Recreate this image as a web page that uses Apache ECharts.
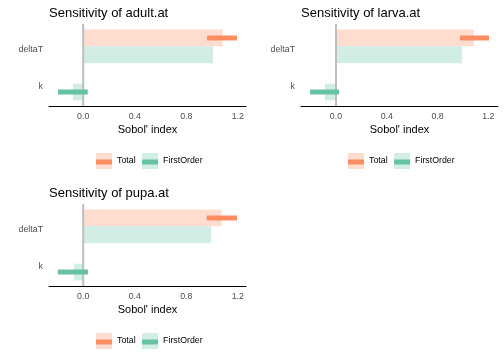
<!DOCTYPE html>
<html><head><meta charset="utf-8">
<script src="https://cdn.jsdelivr.net/npm/echarts@6/dist/echarts.min.js"></script>
<style>html,body{margin:0;padding:0;background:#fff}#c{width:504px;height:360px}</style>
</head><body><div id="c"></div>
<script>
// ---- data ----
const categories = ['deltaT', 'k'];
const measures = ['Total', 'FirstOrder'];
const panelNames = ['adult.at', 'larva.at', 'pupa.at'];
const xTicks = [0, 0.4, 0.8, 1.2];

const adultTotal      = [1.083, 0];
const adultTotalLow   = [0.961, null];
const adultTotalHigh  = [1.194, null];
const adultFirst      = [1.008, -0.079];
const adultFirstLow   = [null, -0.196];
const adultFirstHigh  = [null, 0.035];

const larvaTotal      = [1.085, 0];
const larvaTotalLow   = [0.977, null];
const larvaTotalHigh  = [1.206, null];
const larvaFirst      = [0.993, -0.087];
const larvaFirstLow   = [null, -0.205];
const larvaFirstHigh  = [null, 0.024];

const pupaTotal       = [1.075, 0];
const pupaTotalLow    = [0.959, null];
const pupaTotalHigh   = [1.194, null];
const pupaFirst       = [0.992, -0.071];
const pupaFirstLow    = [null, -0.196];
const pupaFirstHigh   = [null, 0.037];

const panelData = [
  {total: adultTotal, totalLow: adultTotalLow, totalHigh: adultTotalHigh, first: adultFirst, firstLow: adultFirstLow, firstHigh: adultFirstHigh},
  {total: larvaTotal, totalLow: larvaTotalLow, totalHigh: larvaTotalHigh, first: larvaFirst, firstLow: larvaFirstLow, firstHigh: larvaFirstHigh},
  {total: pupaTotal,  totalLow: pupaTotalLow,  totalHigh: pupaTotalHigh,  first: pupaFirst,  firstLow: pupaFirstLow,  firstHigh: pupaFirstHigh}
];

// ---- style / layout ----
const FONT = "'Liberation Sans', Arial, sans-serif";
const dark = ['#FC8D62', '#66C2A5'];
const light = ['#FEDDD0', '#D1EDE4'];
const layout = [
  {left: 49,  top: 24},
  {left: 301, top: 24},
  {left: 49,  top: 204}
];
const GW = 197, GH = 82;
const DODGE = 0.225, HALF = 0.225;
const LABEL_SHIFT = 0.08; // category labels sit slightly below the category centre

const chart = echarts.init(document.getElementById('c'), null, {renderer: 'canvas'});

const titles = [], grids = [], xAxes = [], yAxes = [], series = [], legends = [];

function barRender(color) {
  return function (params, api) {
    const y = api.value(0), v = api.value(1);
    const p0 = api.coord([0, y - HALF]);
    const p1 = api.coord([v, y + HALF]);
    return {
      type: 'rect',
      shape: {x: Math.min(p0[0], p1[0]), y: Math.min(p0[1], p1[1]),
              width: Math.abs(p1[0] - p0[0]), height: Math.abs(p1[1] - p0[1])},
      style: {fill: color}
    };
  };
}
function ciRender(color) {
  return function (params, api) {
    const y = api.value(0), lo = api.value(1), hi = api.value(2);
    const a = api.coord([lo, y]);
    const b = api.coord([hi, y]);
    return {
      type: 'rect',
      shape: {x: a[0], y: a[1] - 2.5, width: b[0] - a[0], height: 5},
      style: {fill: color}
    };
  };
}

panelData.forEach((p, i) => {
  const L = layout[i];
  const all = [0].concat(p.total, p.first, p.totalLow, p.totalHigh, p.firstLow, p.firstHigh).filter(v => v !== null);
  const dmin = Math.min(...all), dmax = Math.max(...all);
  const ex = (dmax - dmin) * 0.05;

  titles.push({
    text: 'Sensitivity of ' + panelNames[i],
    left: L.left, top: L.top - 17.5, padding: 0,
    textStyle: {fontFamily: FONT, fontSize: 13, fontWeight: 'normal', color: '#000'}
  });
  grids.push({left: L.left, top: L.top, width: GW, height: GH, containLabel: false, outerBoundsMode: 'none'});
  xAxes.push({
    gridIndex: i, type: 'value', min: dmin - ex, max: dmax + ex,
    axisLine: {show: true, onZero: false, lineStyle: {color: '#000', width: 1}},
    axisTick: {show: false}, splitLine: {show: false},
    axisLabel: {customValues: xTicks, formatter: v => v.toFixed(1), color: '#4D4D4D',
                fontSize: 8.8, fontFamily: FONT, margin: 6.5},
    name: "Sobol' index", nameLocation: 'middle', nameGap: 18,
    nameTextStyle: {fontFamily: FONT, fontSize: 11, color: '#000'}
  });
  yAxes.push({
    gridIndex: i, type: 'value', inverse: true, min: 0.4, max: 2.6,
    axisLine: {show: false}, axisTick: {show: false}, splitLine: {show: false},
    axisLabel: {customValues: categories.map((c, j) => j + 1 + LABEL_SHIFT),
                formatter: v => categories[Math.round(v) - 1],
                color: '#4D4D4D', fontSize: 8.8, fontFamily: FONT, margin: 6}
  });

  const vals = [p.total, p.first];
  const lows = [p.totalLow, p.firstLow];
  const highs = [p.totalHigh, p.firstHigh];
  measures.forEach((m, k) => {
    const off = k === 0 ? -DODGE : DODGE;
    series.push({
      type: 'custom', name: m, xAxisIndex: i, yAxisIndex: i, z: 1,
      itemStyle: {color: light[k]}, silent: true,
      renderItem: barRender(light[k]),
      data: categories.map((c, j) => [j + 1 + off, vals[k][j]])
    });
  });
  series.push({
    type: 'custom', xAxisIndex: i, yAxisIndex: i, z: 2, silent: true,
    renderItem: function (params, api) {
      const x = api.coord([api.value(0), 1])[0];
      const cs = params.coordSys;
      return {type: 'line', shape: {x1: x, y1: cs.y, x2: x, y2: cs.y + cs.height},
              style: {stroke: '#BEBEBE', lineWidth: 2}};
    },
    data: [[0, 1]]
  });
  measures.forEach((m, k) => {
    const off = k === 0 ? -DODGE : DODGE;
    const d = [];
    categories.forEach((c, j) => {
      if (lows[k][j] !== null && highs[k][j] !== null) d.push([j + 1 + off, lows[k][j], highs[k][j]]);
    });
    series.push({
      type: 'custom', name: m, xAxisIndex: i, yAxisIndex: i, z: 3,
      itemStyle: {color: dark[k]}, silent: true,
      renderItem: ciRender(dark[k]),
      data: d
    });
  });

  const lx = L.left + 47, ly = L.top + 129;
  const common = {left: lx, top: ly, padding: 0, itemWidth: 16, itemHeight: 16, itemGap: 6.5,
                  selectedMode: false, orient: 'horizontal'};
  legends.push(Object.assign({}, common, {
    icon: 'rect',
    data: measures.map((m, k) => ({name: m, itemStyle: {color: light[k]}})),
    textStyle: {fontFamily: FONT, fontSize: 8.8, color: '#000'}
  }));
  legends.push(Object.assign({}, common, {
    icon: 'path://M0,0h0.01v0.01h-0.01zM0,6.5h16v5h-16zM15.99,15.99h0.01v0.01h-0.01z',
    data: measures.map((m, k) => ({name: m, itemStyle: {color: dark[k]}})),
    textStyle: {fontFamily: FONT, fontSize: 8.8, color: 'rgba(0,0,0,0)'}
  }));
});

chart.setOption({
  animation: false,
  backgroundColor: '#fff',
  title: titles,
  grid: grids,
  xAxis: xAxes,
  yAxis: yAxes,
  legend: legends,
  series: series
});
</script>
</body></html>
